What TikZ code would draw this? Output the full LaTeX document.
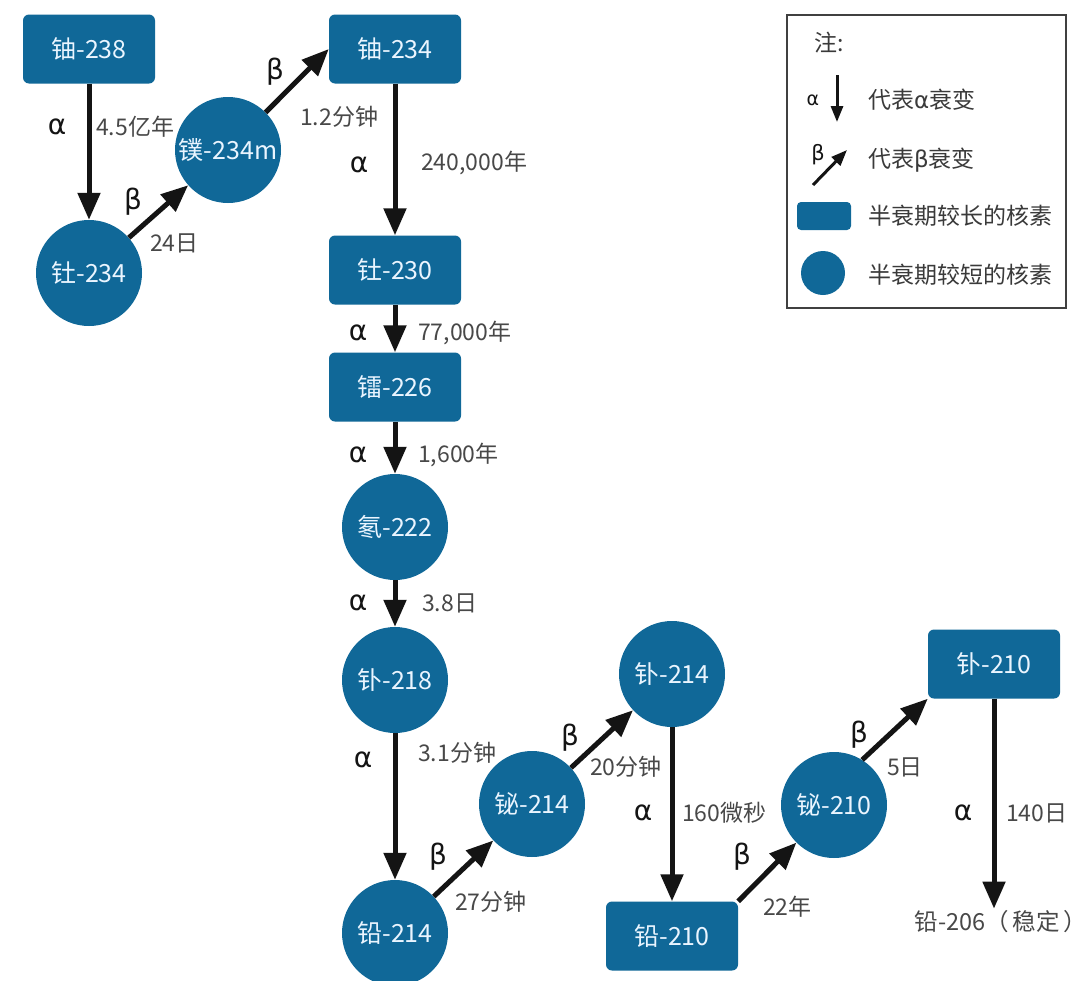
\documentclass[tikz,border=0pt]{standalone}
\usepackage{fontspec}
\setmainfont{Noto Sans CJK SC}
\newfontfamily\grk{DejaVu Sans}
\usetikzlibrary{arrows.meta}
\definecolor{nucblue}{RGB}{16,104,152}
\definecolor{nuctext}{RGB}{234,245,255}
\definecolor{lblgray}{RGB}{72,72,72}
\definecolor{inkblack}{RGB}{20,20,20}
\begin{document}
\begin{tikzpicture}[x=1pt,y=-1pt,
  longnuc/.style={fill=nucblue, rounded corners=6pt, minimum width=132pt, minimum height=69pt, inner sep=0pt, text=nuctext, font=\fontsize{25}{25}\selectfont},
  shortnuc/.style={circle, fill=nucblue, minimum size=106pt, inner sep=0pt, text=nuctext, font=\fontsize{25}{25}\selectfont},
  decay/.style={line width=5pt, draw=inkblack, -{Triangle[width=22pt,length=27pt]}},
  greek/.style={font=\grk\fontsize{28}{28}\selectfont, text=inkblack, inner sep=0pt},
  halftime/.style={anchor=west, font=\fontsize{23}{23}\selectfont, text=lblgray, inner sep=0pt},
  legtext/.style={anchor=west, font=\fontsize{23}{23}\selectfont, text=lblgray!80!black, inner sep=0pt},
  legarrow/.style={line width=3pt, draw=inkblack, -{Triangle[width=12pt,length=16pt]}},
  legbox/.style={draw=black!75, line width=1.2pt, minimum width=279pt, minimum height=293pt, inner sep=0pt}
  ]
\fill[white] (0,0) rectangle (1087,980);
\useasboundingbox (0,0) rectangle (1087,980);

% nuclides
\node[longnuc] (u238) at (89,49) {铀-238};
\node[shortnuc] (th234) at (89,273) {钍-234};
\node[shortnuc] (pa234) at (228,150) {镤-234m};
\node[longnuc] (u234) at (395,49) {铀-234};
\node[longnuc] (th230) at (395,270) {钍-230};
\node[longnuc] (ra226) at (395,387) {镭-226};
\node[shortnuc] (rn222) at (395,527) {氡-222};
\node[shortnuc] (po218) at (395,680) {钋-218};
\node[shortnuc] (pb214) at (395,933) {铅-214};
\node[shortnuc] (bi214) at (532,804) {铋-214};
\node[shortnuc] (po214) at (672,674) {钋-214};
\node[longnuc] (pb210) at (672,936) {铅-210};
\node[shortnuc] (bi210) at (834,805) {铋-210};
\node[longnuc] (po210) at (994,664) {钋-210};
\node[font=\fontsize{23.5}{23.5}\selectfont, text=lblgray, inner sep=2pt] (pb206) at (1001,922) {铅-206（\,稳定\,）};

% decays
\draw[decay] (u238) -- (th234);
\draw[decay] (th234) -- (pa234);
\draw[decay] (pa234.45) -- (u234.west);
\draw[decay] (u234) -- (th230);
\draw[decay] (th230) -- (ra226);
\draw[decay] (ra226) -- (rn222);
\draw[decay] (rn222) -- (po218);
\draw[decay] (po218) -- (pb214);
\draw[decay] (pb214) -- (bi214);
\draw[decay] (bi214) -- (po214);
\draw[decay] (po214) -- (pb210);
\draw[decay] (pb210.north east) -- (bi210.225);
\draw[decay] (bi210.58) -- (po210.south west);
\draw[decay] (po210.south) -- (po210.south |- pb206.north);

% labels
\node[greek] (a1) at (57,127) {α};
\node[halftime] (t1) at (96,127) {4.5亿年};
\node[greek] (b1) at (133,202) {β};
\node[halftime] (t2) at (150,243) {24日};
\node[greek] (b2) at (275,72) {β};
\node[halftime] (t3) at (300,117) {1.2分钟};
\node[greek] (a2) at (359,165) {α};
\node[halftime] (t4) at (421,163) {240,000年};
\node[greek] (a3) at (358,333) {α};
\node[halftime] (t5) at (418,333) {77,000年};
\node[greek] (a4) at (358,455) {α};
\node[halftime] (t6) at (418,455) {1,600年};
\node[greek] (a5) at (358,603) {α};
\node[halftime] (t7) at (422,603) {3.8日};
\node[greek] (a6) at (363,760) {α};
\node[halftime] (t8) at (418,753) {3.1分钟};
\node[greek] (b3) at (438,857) {β};
\node[halftime] (t9) at (455,902) {27分钟};
\node[greek] (b4) at (570,738) {β};
\node[halftime] (t10) at (590,767) {20分钟};
\node[greek] (a7) at (643,813) {α};
\node[halftime] (t11) at (682,813) {160微秒};
\node[greek] (b5) at (742,857) {β};
\node[halftime] (t12) at (763,907) {22年};
\node[greek] (b6) at (859,735) {β};
\node[halftime] (t13) at (887,767) {5日};
\node[greek] (a8) at (963,813) {α};
\node[halftime] (t14) at (1006,813) {140日};

% legend
\node[legbox] (legend) at (926.5,161.5) {};
\node[legtext] (lnote) at (814,43) {注:};
\node[greek, font=\grk\fontsize{19}{19}\selectfont] (lga) at (813,100) {α};
\coordinate (lgatop) at (837,75);
\coordinate (lgabot) at (837,122);
\draw[legarrow] (lgatop) -- (lgabot);
\node[legtext] (lgatext) at (868,100) {代表{\grk α}衰变};
\node[greek, font=\grk\fontsize{21}{21}\selectfont] (lgb) at (818,155) {β};
\coordinate (lgbfrom) at (813,185);
\coordinate (lgbto) at (847,150);
\draw[legarrow] (lgbfrom) -- (lgbto);
\node[legtext] (lgbtext) at (868,160) {代表{\grk β}衰变};
\node[fill=nucblue, rounded corners=4pt, minimum width=54pt, minimum height=28pt, inner sep=0pt] (lgrect) at (824,216) {};
\node[legtext] (lgrtext) at (868,216) {半衰期较长的核素};
\node[circle, fill=nucblue, minimum size=44pt, inner sep=0pt] (lgcirc) at (823,273) {};
\node[legtext] (lgctext) at (868,275) {半衰期较短的核素};
\end{tikzpicture}
\end{document}
